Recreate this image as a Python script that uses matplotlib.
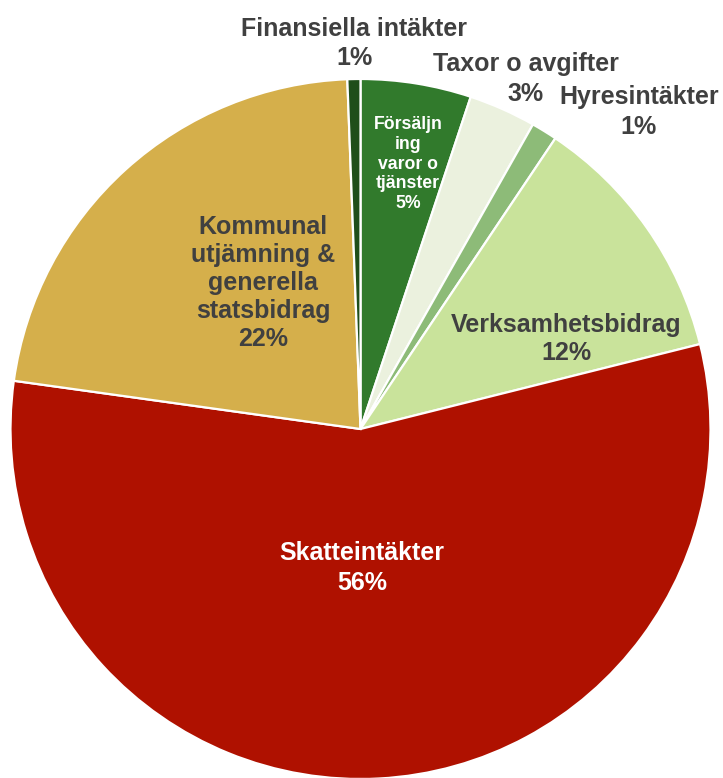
import matplotlib
matplotlib.use("Agg")
import matplotlib.pyplot as plt

categories = ["Försäljning varor o tjänster", "Taxor o avgifter", "Hyresintäkter",
              "Verksamhetsbidrag", "Skatteintäkter",
              "Kommunal utjämning & generella statsbidrag", "Finansiella intäkter"]
values = [5.1, 3.1, 1.2, 11.7, 56.1, 22.2, 0.6]
display_names = ["Försäljn\ning\nvaror o\ntjänster", "Taxor o avgifter", "Hyresintäkter",
                 "Verksamhetsbidrag", "Skatteintäkter",
                 "Kommunal\nutjämning &\ngenerella\nstatsbidrag", "Finansiella intäkter"]
colors = ["#317A2C", "#EBF1DE", "#8DBB78", "#C9E39B", "#AF1100", "#D5AF4B", "#1F4E1A"]

# label placement: centre x and first-line baseline y (pixels, image origin top-left)
label_pos = [(408, 129), (526, 71), (639, 104), (566, 331.5), (362, 560), (263, 234), (354, 36)]
label_color = ["white", "#404040", "#404040", "#404040", "white", "#404040", "#404040"]
label_size = [12.7, 18, 18, 18, 18, 18, 18]
label_step = [19.8, 29.5, 30, 28.5, 30, 28, 29]

W, H = 723, 778
fig = plt.figure(figsize=(W / 100, H / 100), dpi=100)
ax = fig.add_axes([0, 0, 1, 1])

cx, cy, r = 360.5, H - 429, 350
ax.pie(values, colors=colors, startangle=90, counterclock=False,
       center=(cx, cy), radius=r, frame=True,
       wedgeprops=dict(edgecolor="white", linewidth=1.6))
ax.set_xlim(0, W)
ax.set_ylim(0, H)
ax.axis("off")

total = sum(values)
for name, v, (px, py), c, s, step in zip(display_names, values, label_pos,
                                         label_color, label_size, label_step):
    pct = round(v / total * 100)
    lines = name.split("\n") + [f"{pct}%"]
    for i, line in enumerate(lines):
        ax.text(px, H - (py + i * step), line, ha="center", va="baseline", color=c,
                fontsize=s, fontweight="bold", family="Liberation Sans")

fig.savefig("out.png", dpi=100)
